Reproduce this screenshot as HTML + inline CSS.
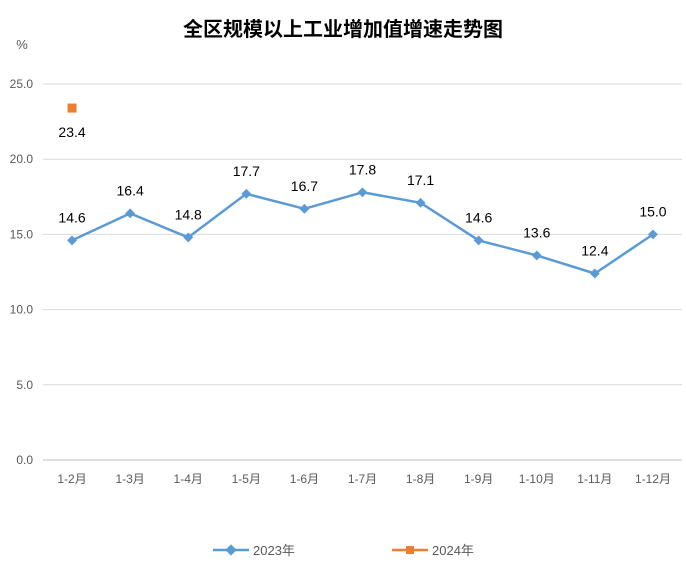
<!DOCTYPE html>
<html><head><meta charset="utf-8"><style>
body{margin:0;background:#fff;}
svg text{font-family:"Liberation Sans","Noto Sans CJK SC",sans-serif;}
</style></head><body>
<svg id="c" width="686" height="580" xmlns="http://www.w3.org/2000/svg">
<text x="343" y="36" text-anchor="middle" font-size="20" font-weight="bold" fill="#000">全区规模以上工业增加值增速走势图</text>
<text x="22" y="49" text-anchor="middle" font-size="13" fill="#595959">%</text>
<g id="grid"></g><g id="xl"></g><g id="s1"></g><g id="s2"></g>
<g>
<g>
<line x1="213" y1="550" x2="249" y2="550" stroke="#5b9bd5" stroke-width="2.5"/>
<rect x="227" y="546" width="8" height="8" fill="#5b9bd5" transform="rotate(45 231 550)"/>
<text x="253" y="555" font-size="13" fill="#595959">2023年</text></g>
<g>
<line x1="392" y1="550" x2="428" y2="550" stroke="#ed7d31" stroke-width="2.5"/>
<rect x="406" y="546" width="8" height="8" fill="#ed7d31"/>
<text x="432" y="555" font-size="13" fill="#595959">2024年</text></g>
</g>
</svg>
<script>
const categories=["1-2月","1-3月","1-4月","1-5月","1-6月","1-7月","1-8月","1-9月","1-10月","1-11月","1-12月"];
const values2023=[14.6,16.4,14.8,17.7,16.7,17.8,17.1,14.6,13.6,12.4,15.0];
const values2024=[23.4];
const yTicks=[0,5,10,15,20,25];
const NS="http://www.w3.org/2000/svg";
const L=43,R=682,T=84,B=460,yMax=25;
const step=(R-L)/categories.length;
const x=i=>L+step*(i+0.5);
const y=v=>B-(v/yMax)*(B-T);
function mk(p,tag,a,t){const e=document.createElementNS(NS,tag);for(const k in a)e.setAttribute(k,a[k]);if(t!==undefined)e.textContent=t;document.getElementById(p).appendChild(e);return e;}
yTicks.forEach(v=>{
 const g=mk('grid','line',{x1:L,x2:R,y1:y(v),y2:y(v),stroke:v===0?'#bfbfbf':'#d9d9d9','stroke-width':1});
 
 
 const t=mk('grid','text',{x:33,y:y(v)+4,'text-anchor':'end','font-size':12,fill:'#595959'},v.toFixed(1));
 
 
});
categories.forEach((c,i)=>{
 const t=mk('xl','text',{x:x(i),y:483,'text-anchor':'middle','font-size':12,fill:'#595959'},c);
 
 
});
const pl=mk('s1','polyline',{points:values2023.map((v,i)=>x(i)+','+y(v)).join(' '),fill:'none',stroke:'#5b9bd5','stroke-width':2.5,'stroke-linejoin':'round'});


values2023.forEach((v,i)=>{
 const m=mk('s1','rect',{x:x(i)-3.5,y:y(v)-3.5,width:7,height:7,fill:'#5b9bd5',transform:`rotate(45 ${x(i)} ${y(v)})`});
 
 
 const t=mk('s1','text',{x:x(i),y:y(v)-18,'text-anchor':'middle','font-size':14,fill:'#000'},v.toFixed(1));
 
 
});
values2024.forEach((v,i)=>{
 const m=mk('s2','rect',{x:x(i)-4.5,y:y(v)-4.5,width:9,height:9,fill:'#ed7d31'});
 
 
 const t=mk('s2','text',{x:x(i),y:y(v)+29,'text-anchor':'middle','font-size':14,fill:'#000'},v.toFixed(1));
 
 
});
</script>
</body></html>
